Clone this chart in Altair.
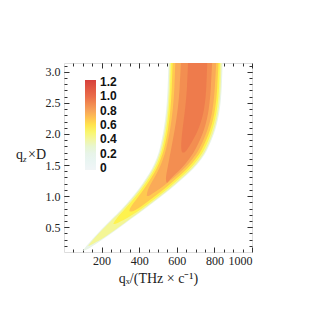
import altair as alt
import pandas as pd

# ---- data (band contours of the intensity map) ----
# each level: y rows, left edge x, right edge x, intensity value
a_y = [0.12, 0.15, 0.3, 0.47, 0.63, 0.79, 0.95, 1.11, 1.28, 1.44, 1.6, 1.76, 2.08, 2.4, 2.75, 3.16]
a_l = [98, 106, 149, 201, 254, 307, 354, 397, 436, 469, 493, 510, 532, 545, 552, 556]
a_r = [102, 131, 206, 286, 356, 428, 498, 566, 631, 690, 734, 766, 809, 831, 840, 844]
a_v = 0.22

b_y = [0.2, 0.3, 0.47, 0.63, 0.79, 0.95, 1.11, 1.28, 1.44, 1.6, 1.76, 2.08, 2.4, 2.75, 3.16]
b_l = [128, 155, 207, 260, 313, 360, 403, 442, 475, 499, 516, 538, 551, 558, 562]
b_r = [135, 200, 280, 350, 422, 492, 560, 625, 684, 728, 760, 803, 825, 834, 838]
b_v = 0.42

c_y = [0.55, 0.63, 0.79, 0.95, 1.11, 1.28, 1.44, 1.6, 1.76, 2.08, 2.4, 2.75, 3.16]
c_l = [262, 275, 323, 370, 412, 451, 484, 507, 524, 546, 558, 565, 569]
c_r = [272, 330, 410, 480, 548, 612, 672, 716, 750, 793, 816, 826, 830]
c_v = 0.56

d_y = [0.75, 0.79, 0.95, 1.11, 1.28, 1.44, 1.6, 1.76, 2.08, 2.4, 2.75, 3.16]
d_l = [350, 345, 385, 425, 462, 494, 516, 533, 555, 567, 574, 578]
d_r = [360, 392, 462, 532, 597, 657, 702, 737, 782, 806, 816, 822]
d_v = 0.68

e_y = [1.0, 1.11, 1.28, 1.44, 1.6, 1.76, 2.08, 2.4, 2.75, 3.16]
e_l = [440, 445, 478, 507, 528, 544, 566, 580, 588, 592]
e_r = [450, 510, 578, 640, 686, 722, 768, 793, 803, 810]
e_v = 0.78

f_y = [1.22, 1.28, 1.44, 1.6, 1.76, 2.08, 2.4, 2.75, 3.16]
f_l = [545, 540, 550, 560, 570, 590, 606, 616, 622]
f_r = [552, 565, 625, 668, 702, 750, 772, 782, 788]
f_v = 0.88

g_y = [1.7, 1.76, 2.08, 2.4, 2.75, 3.16]
g_l = [630, 620, 630, 645, 655, 660]
g_r = [640, 660, 720, 748, 758, 762]
g_v = 0.95

levels = [
    (a_y, a_l, a_r, a_v),
    (b_y, b_l, b_r, b_v),
    (c_y, c_l, c_r, c_v),
    (d_y, d_l, d_r, d_v),
    (e_y, e_l, e_r, e_v),
    (f_y, f_l, f_r, f_v),
    (g_y, g_l, g_r, g_v),
]

# colour bar
cbar_stops = [-0.03, 0.25, 0.4, 0.55, 0.8, 1.0, 1.23]
cbar_colors = ["#f1f5f6", "#eaf3e4", "#f3f6a0", "#fdf54e", "#f7a45a", "#ea6c4a", "#d63f3c"]
cbar_ticks = [0, 0.2, 0.4, 0.6, 0.8, 1.0, 1.2]

x_major = [200, 400, 600, 800, 1000]
x_minor = list(range(50, 1000, 50))
y_major = [0.5, 1.0, 1.5, 2.0, 2.5, 3.0]
y_minor = [round(0.2 + 0.1 * i, 1) for i in range(30)]

W, H = 188, 189
xs = alt.Scale(domain=[0, 1000], nice=False, zero=False)
ys = alt.Scale(domain=[0.1, 3.1416], nice=False, zero=False)
cs = alt.Scale(domain=cbar_stops, range=cbar_colors)

legend = alt.Legend(
    orient="none", legendX=21, legendY=17, direction="vertical",
    gradientLength=90, gradientThickness=11, title=None,
    values=cbar_ticks,
    labelExpr="datum.value == 0 ? '0' : format(datum.value, '.1f')",
    labelFont="Liberation Sans", labelFontWeight="bold", labelFontSize=12,
    labelColor="#111111", labelOffset=4, labelOverlap=False,
    gradientStrokeWidth=0, padding=0,
)

layers = []
for (yy, ll, rr, vv) in levels:
    df = pd.DataFrame({"y": yy, "l": ll, "r": rr, "v": [vv] * len(yy)})
    layers.append(
        alt.Chart(df).mark_area(orient="horizontal", interpolate="basis", clip=True).encode(
            y=alt.Y("y:Q", scale=ys, axis=None),
            x=alt.X("l:Q", scale=xs, axis=None),
            x2="r:Q",
            color=alt.Color("v:Q", scale=cs, legend=legend),
        )
    )

axdf = pd.DataFrame({"y": a_y, "l": a_l})
base = alt.Chart(axdf).mark_point(opacity=0)

lab = dict(labelFont="Liberation Serif", labelFontSize=12, labelColor="#222222",
           grid=False, domain=False)

def xaxis(**kw):
    return base.encode(x=alt.X("l:Q", scale=xs, axis=alt.Axis(**kw)),
                       y=alt.Y("y:Q", scale=ys, axis=None))

def yaxis(**kw):
    return base.encode(y=alt.Y("y:Q", scale=ys, axis=alt.Axis(**kw)),
                       x=alt.X("l:Q", scale=xs, axis=None))

tick = dict(labels=False, domain=False, grid=False, title=None, tickColor="#333333", tickWidth=1)

axes = [
    xaxis(orient="bottom", values=x_major, ticks=False, labelPadding=3, format="d",
          title="qₓ/(THz × c⁻¹)", titleFont="Liberation Serif", titleFontSize=14,
          titleFontWeight="normal", titleColor="#222222", titlePadding=5, **lab),
    xaxis(orient="top", offset=-H, values=x_major, tickSize=5, **tick),
    xaxis(orient="top", offset=-H, values=x_minor, tickSize=3, **tick),
    xaxis(orient="bottom", offset=-H, values=x_major, tickSize=5, **tick),
    xaxis(orient="bottom", offset=-H, values=x_minor, tickSize=3, **tick),
    yaxis(orient="left", values=y_major, ticks=False, labelPadding=4,
          format=".1f", title=None, **lab),
    yaxis(orient="right", offset=-W, values=y_major, tickSize=5, **tick),
    yaxis(orient="right", offset=-W, values=y_minor, tickSize=3, **tick),
    yaxis(orient="left", offset=-W, values=y_major, tickSize=5, **tick),
    yaxis(orient="left", offset=-W, values=y_minor, tickSize=3, **tick),
]

ytitle = [
    alt.Chart(pd.DataFrame({"t": ["q"]})).mark_text(
        font="Liberation Serif", fontSize=14, align="left", baseline="alphabetic", color="#222222"
    ).encode(text="t:N", x=alt.value(-48), y=alt.value(96)),
    alt.Chart(pd.DataFrame({"t": ["z"]})).mark_text(
        font="Liberation Serif", fontSize=9, fontStyle="italic", align="left",
        baseline="alphabetic", color="#222222"
    ).encode(text="t:N", x=alt.value(-41), y=alt.value(99)),
    alt.Chart(pd.DataFrame({"t": ["×D"]})).mark_text(
        font="Liberation Serif", fontSize=14, align="left", baseline="alphabetic", color="#222222"
    ).encode(text="t:N", x=alt.value(-36), y=alt.value(96)),
]

chart = alt.layer(*layers, *axes, *ytitle).resolve_axis(
    x="independent", y="independent"
).properties(
    width=W, height=H,
    autosize=alt.AutoSizeParams(type="none"),
    padding={"left": 56, "top": 55, "right": 56, "bottom": 56},
).configure_view(
    fill="#f2f7fa", stroke="#333333", strokeWidth=1
).configure(background="white")

chart.save("out.html", embed_options={"renderer": "svg", "actions": False})
